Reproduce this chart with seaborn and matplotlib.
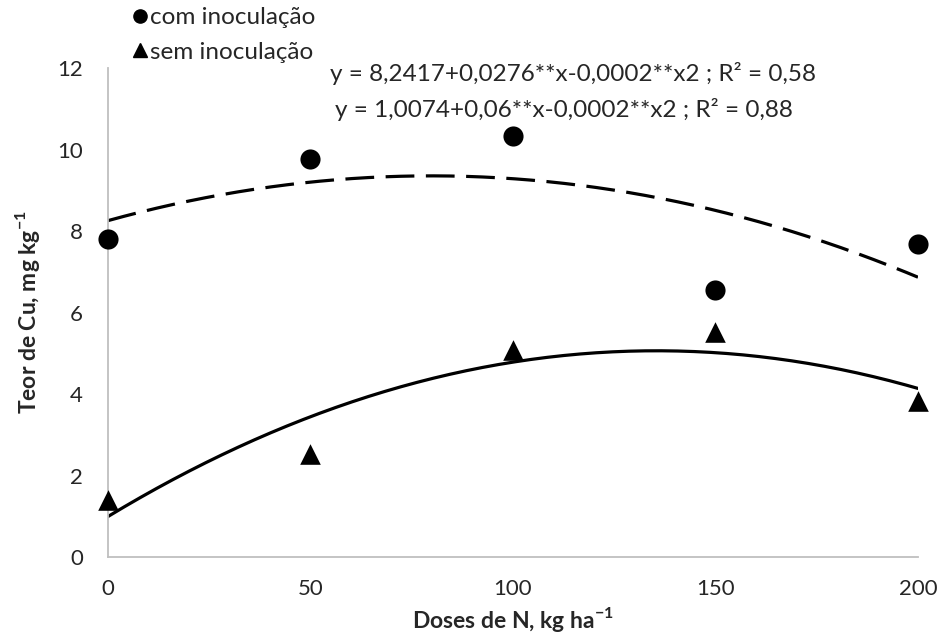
import numpy as np
import pandas as pd
import matplotlib
matplotlib.use("Agg")
import matplotlib.pyplot as plt
import seaborn as sns
from matplotlib.lines import Line2D

# values
doses = [0, 50, 100, 150, 200]
com_inoc = [7.80, 9.76, 10.33, 6.55, 7.67]
sem_inoc = [1.40, 2.53, 5.08, 5.53, 3.83]
eq_com = "y = 8,2417+0,0276**x-0,0002**x2 ; R² = 0,58"
eq_sem = "y = 1,0074+0,06**x-0,0002**x2 ; R² = 0,88"
y_ticks = [0, 2, 4, 6, 8, 10, 12]
x_ticks = [0, 50, 100, 150, 200]

sns.set_style("white")
plt.rcParams['font.family'] = ['Lato', 'DejaVu Sans']

df = pd.DataFrame({'dose': doses, 'com': com_inoc, 'sem': sem_inoc})

fig = plt.figure(figsize=(9.42, 6.35), dpi=100)
ax = fig.add_axes([0.1146, 0.1228, 0.8599, 0.7701])

# quadratic trendlines (least squares, like the spreadsheet trendline)
xs = np.linspace(0, 200, 200)
fit_com = np.polyval(np.polyfit(df['dose'], df['com'], 2), xs)
fit_sem = np.polyval(np.polyfit(df['dose'], df['sem'], 2), xs)
sns.lineplot(x=xs, y=fit_com, ax=ax, color='black', lw=2.3)
ax.lines[-1].set_dashes((9, 3.6))
sns.lineplot(x=xs, y=fit_sem, ax=ax, color='black', lw=2.3)

sns.scatterplot(data=df, x='dose', y='com', ax=ax, marker='o', s=210,
                color='black', linewidth=0, clip_on=False, zorder=5)
sns.scatterplot(data=df, x='dose', y='sem', ax=ax, marker='^', s=220,
                color='black', linewidth=0, clip_on=False, zorder=5)

ax.set_xlim(0, 200)
ax.set_ylim(0, 12)
ax.set_xticks(x_ticks)
ax.set_yticks(y_ticks)
ax.tick_params(axis='both', length=0, labelsize=16, colors='#262626')
ax.tick_params(axis='y', pad=18)
ax.tick_params(axis='x', pad=16)
sns.despine(ax=ax)
for sp in ['left', 'bottom']:
    ax.spines[sp].set_color('#bfbfbf')
    ax.spines[sp].set_linewidth(1.3)

ax.set_xlabel('Doses de N, kg ha$^{\\mathregular{-1}}$', fontsize=16.5,
              fontweight='bold')
ax.set_ylabel('Teor de Cu, mg kg$^{\\mathregular{-1}}$', fontsize=16.5,
              fontweight='bold')
ax.xaxis.set_label_coords(0.5, -0.127)
ax.xaxis.label.set_va('center')
ax.yaxis.set_label_coords(-0.099, 0.5)
ax.yaxis.label.set_va('center')

handles = [Line2D([], [], marker='o', color='black', ls='', markersize=9.5),
           Line2D([], [], marker='^', color='black', ls='', markersize=10.5)]
fig.legend(handles, ['com inoculação', 'sem inoculação'], loc='upper left',
           bbox_to_anchor=(0.128, 1.0038), frameon=False, fontsize=17.5,
           handletextpad=0.0, labelspacing=0.56, handlelength=0.8,
           borderaxespad=0)

fig.text(0.3503, 0.885, eq_com, fontsize=17.5, va='center', ha='left')
fig.text(0.3556, 0.8268, eq_sem, fontsize=17.5, va='center', ha='left')

fig.savefig('out.png', dpi=100)
